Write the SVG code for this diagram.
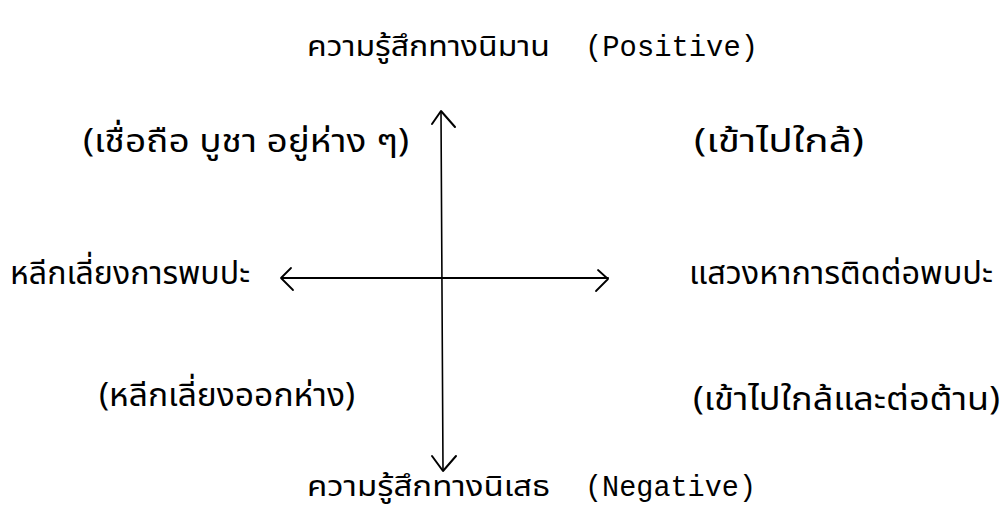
<svg xmlns="http://www.w3.org/2000/svg" width="1002" height="520" viewBox="0 0 1002 520">
<style>
.th{font-family:"Noto Sans Thai","Noto Sans","Liberation Sans",sans-serif;font-size:32px;fill:#000}
.tt{font-family:"Noto Sans Thai","Noto Sans","Liberation Sans",sans-serif;font-size:29px;fill:#000}
.en{font-family:"Liberation Mono",monospace;font-size:29px;fill:#000}
.ax{stroke:#000;fill:none;stroke-linecap:round;stroke-linejoin:round}
</style>
<rect width="1002" height="520" fill="#fff"/>
<g id="connectors">
<path class="ax" d="M441 112 L443 470" stroke-width="1.6"/>
<path class="ax" d="M432 124 L441 111 L455 127" stroke-width="2"/>
<path class="ax" d="M432 456 L443 471 L456 456" stroke-width="2"/>
<path class="ax" d="M282 278 H608" stroke-width="2"/>
<path class="ax" d="M291 268 L281 278 L293 290" stroke-width="1.8"/>
<path class="ax" d="M598 270 L608 279 L596 291" stroke-width="1.8"/>
</g>
<g id="positive">
<text class="tt" x="307" y="56" textLength="243" lengthAdjust="spacingAndGlyphs">ความรู้สึกทางนิมาน</text>
<text class="en" x="585" y="56" textLength="173" lengthAdjust="spacingAndGlyphs">(Positive)</text>
</g>
<g id="q1">
<text class="th" x="83" y="152" textLength="326" lengthAdjust="spacingAndGlyphs">(เชื่อถือ บูชา อยู่ห่าง ๆ)</text>
</g>
<g id="q2">
<text class="th" x="694" y="152" textLength="170" lengthAdjust="spacingAndGlyphs">(เข้าไปใกล้)</text>
</g>
<g id="left">
<text class="th" x="10" y="284" textLength="240" lengthAdjust="spacingAndGlyphs">หลีกเลี่ยงการพบปะ</text>
</g>
<g id="right">
<text class="th" x="689" y="284" textLength="304" lengthAdjust="spacingAndGlyphs">แสวงหาการติดต่อพบปะ</text>
</g>
<g id="q3">
<text class="th" x="99" y="406" textLength="256" lengthAdjust="spacingAndGlyphs">(หลีกเลี่ยงออกห่าง)</text>
</g>
<g id="q4">
<text class="th" x="693" y="410" textLength="307" lengthAdjust="spacingAndGlyphs">(เข้าไปใกล้และต่อต้าน)</text>
</g>
<g id="negative">
<text class="tt" x="307" y="496" textLength="243" lengthAdjust="spacingAndGlyphs">ความรู้สึกทางนิเสธ</text>
<text class="en" x="585" y="496" textLength="171" lengthAdjust="spacingAndGlyphs">(Negative)</text>
</g>
</svg>
